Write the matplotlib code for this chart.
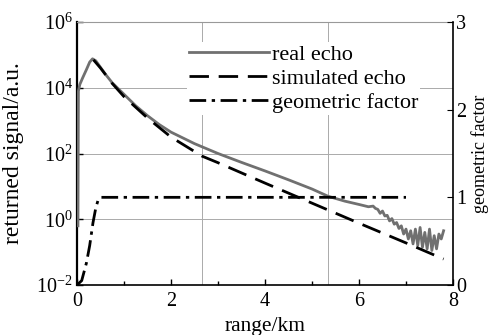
import numpy as np
import matplotlib
matplotlib.use('Agg')
import matplotlib.pyplot as plt
from matplotlib.ticker import FixedLocator, MultipleLocator, FuncFormatter

plt.rcParams['font.family'] = ['Liberation Serif', 'DejaVu Serif']
plt.rcParams['mathtext.fontset'] = 'custom'
plt.rcParams['mathtext.rm'] = 'Liberation Serif'
plt.rcParams['mathtext.it'] = 'Liberation Serif:italic'

# real echo (range km, log10 signal)
real_x = [0.02, 0.03, 0.06, 0.12, 0.20, 0.27, 0.33, 0.40, 0.50, 0.60, 0.75,
          1.0, 1.25, 1.5, 1.75, 2.0, 2.5, 3.0, 3.5, 4.0, 4.5, 5.0, 5.34,
          5.7, 6.0, 6.2,
          6.30, 6.35, 6.40, 6.45, 6.50, 6.55, 6.60, 6.65, 6.70, 6.75, 6.80,
          6.85, 6.90, 6.95, 7.00, 7.05, 7.10, 7.15, 7.20, 7.25, 7.30, 7.35,
          7.40, 7.45, 7.50, 7.55, 7.60, 7.65, 7.70, 7.75, 7.80]
real_log = [-0.2, 3.9, 4.1, 4.3, 4.55, 4.78, 4.88, 4.82, 4.62, 4.42, 4.15,
            3.8, 3.45, 3.15, 2.88, 2.65, 2.3, 2.0, 1.73, 1.47, 1.2, 0.92, 0.70,
            0.55, 0.45, 0.38,
            0.40, 0.33, 0.30, 0.18, 0.25, 0.10, 0.12, -0.05, 0.02, -0.15, -0.10,
            -0.28, -0.20, -0.45, -0.30, -0.60, -0.35, -0.75, -0.30, -0.80, -0.25, -0.85,
            -0.40, -0.90, -0.30, -0.95, -0.50, -0.90, -0.45, -0.60, -0.35]

# simulated echo
sim_x = [0.35, 0.5, 0.75, 1.0, 1.5, 2.0, 2.66, 3.0, 4.0, 5.0, 6.0, 7.0, 7.8]
sim_log = [4.85, 4.6, 4.13, 3.73, 3.08, 2.50, 1.92, 1.72, 1.10, 0.49, -0.12, -0.72, -1.21]

# geometric factor (right axis)
geo_x = [0.0, 0.1, 0.2, 0.27, 0.34, 0.40, 0.45, 0.50, 7.0]
geo_y = [0.0, 0.05, 0.25, 0.45, 0.71, 0.88, 0.97, 1.0, 1.0]

fig = plt.figure(figsize=(5, 3.35), dpi=100)
ax1 = fig.add_axes([77/500, 50/335, 376/500, 263/335])
ax2 = ax1.twinx()

l1, = ax1.plot(real_x, 10**np.array(real_log), color='#707070', lw=2.0,
               label='real echo', zorder=3)
l2, = ax1.plot(sim_x, 10**np.array(sim_log), color='black', lw=2.0,
               dashes=(7, 3.5), label='simulated echo', zorder=4)
l3, = ax2.plot(geo_x, geo_y, color='black', lw=2.0,
               dashes=(6, 2, 1.2, 2), label='geometric factor')

ax1.set_yscale('log')
ax1.set_xlim(0, 8)
ax1.set_ylim(1e-2, 1e6)
ax2.set_ylim(0, 3)

ax1.yaxis.set_major_locator(FixedLocator([1e-2, 1e0, 1e2, 1e4, 1e6]))
ax1.yaxis.set_minor_locator(FixedLocator([]))
ax1.yaxis.set_major_formatter(FuncFormatter(
    lambda v, p: r'$10^{%d}$' % round(np.log10(v))))
ax1.xaxis.set_major_locator(MultipleLocator(2))
ax1.xaxis.set_minor_locator(MultipleLocator(1))
ax2.yaxis.set_major_locator(MultipleLocator(1))

ax1.tick_params(axis='both', which='both', direction='in', labelsize=14.5,
                top=False, width=1.0)
ax1.tick_params(axis='y', length=4, pad=3)
ax1.tick_params(axis='x', which='major', length=4, pad=5)
ax1.tick_params(axis='x', which='minor', length=3)
ax2.tick_params(axis='y', direction='in', length=4, labelsize=14.5, pad=2)

# grid lines
for v in [1e0, 1e2, 1e4]:
    ax1.axhline(v, color='#aaaaaa', lw=0.7, zorder=1)
for v in [8/3, 16/3]:
    ax1.axvline(v, color='#aaaaaa', lw=0.7, zorder=1)

ax1.spines['left'].set_linewidth(1.6)
ax1.spines['bottom'].set_linewidth(1.2)
ax1.spines['right'].set_visible(False)
ax1.spines['top'].set_color('#999999')
ax1.spines['top'].set_linewidth(0.8)
ax2.spines['top'].set_visible(False)
ax2.spines['left'].set_visible(False)
ax2.spines['bottom'].set_visible(False)
ax2.spines['right'].set_linewidth(1.2)

ax1.set_xlabel('range/km', fontsize=15.5, labelpad=4)
ax1.set_ylabel('returned signal/a.u.', fontsize=17)
ax2.set_ylabel('geometric factor', fontsize=13)
ax1.yaxis.set_label_coords(-0.141, 0.5)
ax2.yaxis.set_label_coords(1.048, 0.5)

leg = ax2.legend(handles=[l1, l2, l3], loc='upper left',
                 bbox_to_anchor=(176/500, (335-31)/335),
                 bbox_transform=fig.transFigure, fontsize=16,
                 frameon=True, fancybox=False, edgecolor='none',
                 facecolor='white', framealpha=1, borderpad=0.1,
                 handlelength=3.6, handletextpad=0.1, labelspacing=0.15)

fig.savefig('out.png', dpi=100)
